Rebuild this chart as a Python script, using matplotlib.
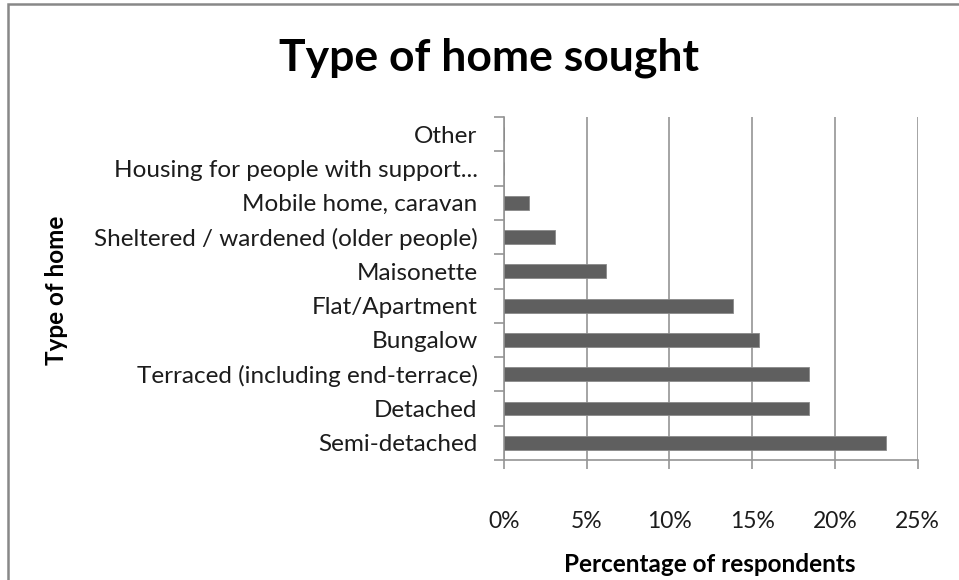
import numpy as np
import matplotlib
matplotlib.use('Agg')
import matplotlib.pyplot as plt
from matplotlib.patches import Rectangle
from matplotlib.ticker import FixedLocator, FuncFormatter

plt.rcParams['font.family'] = ['Lato', 'DejaVu Sans']

# home types, bottom to top as drawn
home_types = ['Semi-detached', 'Detached', 'Terraced (including end-terrace)',
              'Bungalow', 'Flat/Apartment', 'Maisonette',
              'Sheltered / wardened (older people)', 'Mobile home, caravan',
              'Housing for people with support...', 'Other']
# percentage of respondents
pct = [23.08, 18.46, 18.46, 15.38, 13.85, 6.15, 3.08, 1.54, 0.0, 0.0]
x_ticks = [0, 5, 10, 15, 20, 25]

grey = '#959595'
txt = '#1c1c1c'

fig = plt.figure(figsize=(9.59, 5.80), dpi=100)
W, H = 959, 580
ax = fig.add_axes([504 / W, 1 - 460 / H, (917.7 - 504) / W, (460 - 117) / H])

y = np.arange(len(home_types))
ax.barh(y, pct, height=0.4, color='#5f5f5f', edgecolor='#8a8a8a', linewidth=0.6, zorder=3)

ax.set_xlim(0, 25)
ax.set_ylim(-0.5, len(home_types) - 0.5)

ax.xaxis.set_major_locator(FixedLocator(x_ticks))
ax.xaxis.set_major_formatter(FuncFormatter(lambda v, p: '%d%%' % v))
ax.grid(axis='x', color=grey, linewidth=1.2, zorder=0)

ax.set_yticks(y)
ax.set_yticklabels(home_types)
ax.yaxis.set_minor_locator(FixedLocator(np.arange(-0.5, len(home_types), 1.0)))
ax.tick_params(axis='y', which='major', length=0, pad=19, labelsize=17.5, labelcolor=txt)
ax.tick_params(axis='y', which='minor', length=7, width=1.2, color=grey, direction='out')
ax.tick_params(axis='x', length=6.5, width=1.2, color=grey, direction='out',
               pad=30, labelsize=16.5, labelcolor=txt)

for s in ['top', 'right']:
    ax.spines[s].set_visible(False)
for s in ['left', 'bottom']:
    ax.spines[s].set_color(grey)
    ax.spines[s].set_linewidth(1.2)

fig.text(489 / W, 1 - 58 / H, 'Type of home sought', ha='center', va='center',
         fontsize=32, fontweight='bold', color='black')
fig.text(710 / W, 1 - 564 / H, 'Percentage of respondents', ha='center', va='center',
         fontsize=17.5, fontweight='bold', color='black')
fig.text(57 / W, 1 - 290 / H, 'Type of home', ha='center', va='center', rotation=90,
         fontsize=17.5, fontweight='bold', color='black')

# outer chart frame, cut off at right and bottom
fig.patches.append(Rectangle((8 / W, -0.1), 1.2, 1 - 4.5 / H + 0.1, transform=fig.transFigure,
                             fill=False, edgecolor='#888888', linewidth=1.8))

fig.savefig('out.png', dpi=100)
